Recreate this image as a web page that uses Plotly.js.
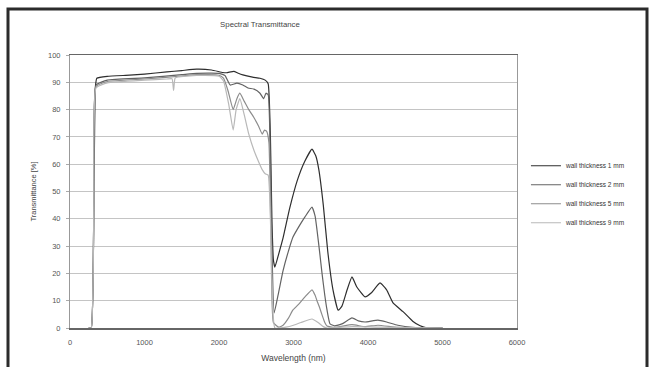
<!DOCTYPE html>
<html>
<head>
<meta charset="utf-8">
<script src="https://cdn.plot.ly/plotly-3.0.1.min.js"></script>
<style>html,body{margin:0;padding:0;background:#fff;}#chart{width:649px;height:367px;}</style>
</head>
<body>
<div id="chart"></div>
<script>
var seriesNames = ["wall thickness 1 mm", "wall thickness 2 mm", "wall thickness 5 mm", "wall thickness 9 mm"];

var wl1 = [250, 285, 320, 340, 360, 500, 800, 1000, 1300, 1500, 1700, 1900, 2050, 2100, 2200, 2250, 2320, 2450, 2550, 2620, 2660, 2690, 2710, 2730, 2750, 2800, 2860, 2950, 3050, 3150, 3248, 3300, 3340, 3400, 3460, 3530, 3600, 3650, 3720, 3785, 3850, 3960, 4050, 4161, 4250, 4336, 4470, 4600, 4700, 4800, 5000];
var t1  = [0, 0, 45, 88, 91.5, 92.2, 92.6, 93, 93.8, 94.3, 94.8, 94.5, 93.6, 93.5, 94, 93.4, 92.7, 91.9, 91.5, 90.8, 89.5, 70, 40, 25, 22.3, 27, 33, 44, 54, 61, 65.5, 63, 58, 45, 28, 14, 6.5, 8, 14, 18.7, 15, 11.4, 13, 16.5, 14, 9.2, 6, 2.5, 0.8, 0, 0];

var wl2 = [250, 285, 320, 350, 500, 1000, 1500, 1700, 2000, 2080, 2150, 2240, 2320, 2390, 2470, 2550, 2600, 2630, 2660, 2690, 2710, 2740, 2800, 2860, 2930, 2993, 3080, 3154, 3248, 3290, 3315, 3350, 3383, 3420, 3450, 3490, 3550, 3650, 3785, 3870, 3960, 4134, 4250, 4400, 4600, 5000];
var t2  = [0, 0, 45, 89, 90.8, 91.6, 92.8, 93.3, 93.3, 92.5, 89, 89.7, 89, 87.9, 87.5, 86, 84, 86, 85.5, 60, 30, 5.5, 13, 21, 28, 33.3, 37.5, 40.7, 44.3, 41, 36, 28, 20, 12, 6.6, 1.5, 0.8, 1.5, 3.7, 2.6, 2.2, 2.9, 2.2, 1, 0.2, 0];

var wl3 = [250, 285, 320, 350, 500, 1000, 1500, 1700, 2000, 2060, 2120, 2190, 2240, 2280, 2340, 2400, 2470, 2530, 2580, 2610, 2640, 2670, 2700, 2730, 2800, 2860, 2930, 2993, 3080, 3154, 3248, 3290, 3315, 3350, 3383, 3420, 3450, 3550, 3785, 3960, 4134, 4400, 5000];
var t3  = [0, 0, 45, 88.5, 90.3, 91.2, 92.3, 92.8, 92.6, 91.5, 87, 80, 84, 86, 83, 80, 77, 74, 71, 72.5, 72, 68, 30, 2, 0.3, 1, 3.5, 6.6, 9, 11.4, 14, 12, 10, 7.5, 4.8, 2, 0.7, 0.2, 1.2, 0.5, 1, 0.2, 0];

var wl4 = [250, 285, 320, 350, 500, 1000, 1300, 1370, 1390, 1410, 1450, 1700, 2000, 2060, 2130, 2190, 2230, 2280, 2340, 2400, 2470, 2530, 2580, 2620, 2660, 2690, 2720, 2750, 2900, 3000, 3100, 3248, 3330, 3400, 3450, 3785, 4134, 5000];
var t4  = [0, 0, 45, 88, 89.8, 90.8, 91.2, 91.3, 87, 91.5, 92, 92.5, 92.2, 90.5, 82, 72.5, 80, 84, 78, 71, 65, 61, 58, 56.5, 56, 40, 8, 0, 0.3, 1, 2, 3.3, 2, 0.5, 0, 0.5, 0.3, 0];

var xTicks = [0, 1000, 2000, 3000, 4000, 5000, 6000];
var yTicks = [0, 10, 20, 30, 40, 50, 60, 70, 80, 90, 100];

var colors = ["#2e2e2e", "#636363", "#8c8c8c", "#b8b8b8"];
var xs = [wl1, wl2, wl3, wl4];
var ys = [t1, t2, t3, t4];

var data = seriesNames.map(function (n, i) {
  return {
    x: xs[i], y: ys[i], name: n, type: "scatter", mode: "lines",
    line: {color: colors[i], width: 1.2, shape: "spline", smoothing: 0.4}
  };
});

var font = "Liberation Sans, Arial, sans-serif";
var layout = {
  width: 649, height: 367,
  margin: {l: 70, r: 132, t: 55, b: 39},
  paper_bgcolor: "#ffffff", plot_bgcolor: "#ffffff",
  font: {family: font, size: 7, color: "#444"},
  showlegend: true,
  title: {text: "Spectral Transmittance", font: {size: 7.8, color: "#444"}, x: 0.425, xref: "paper", xanchor: "center", y: 0.935, yanchor: "middle"},
  xaxis: {
    range: [0, 6000], tickvals: xTicks, ticktext: xTicks.map(String),
    showgrid: false, zeroline: false, showline: true, linecolor: "#666", linewidth: 1.5, mirror: true,
    ticks: "", ticklabelstandoff: 6, tickfont: {size: 7.5, color: "#555"},
    title: {text: "Wavelength (nm)", font: {size: 8.5, color: "#444"}, standoff: 9}
  },
  yaxis: {
    range: [0, 100], tickvals: yTicks, ticktext: yTicks.map(String),
    showgrid: true, gridcolor: "#c4c4c4", gridwidth: 1, zeroline: false,
    showline: true, linecolor: "#999", linewidth: 1, mirror: true,
    ticks: "outside", ticklen: 3, tickcolor: "#aaa", ticklabelstandoff: 4, tickfont: {size: 7.5, color: "#555"},
    title: {text: "Transmittance [%]", font: {size: 7.5, color: "#444"}, standoff: 10}
  },
  legend: {x: 1.02, xanchor: "left", y: 0.49, yanchor: "middle", font: {size: 6.5, color: "#333"}, bgcolor: "rgba(0,0,0,0)", tracegroupgap: 0},
  shapes: [{
    type: "rect", xref: "paper", yref: "paper",
    x0: (8 - 70) / 447, x1: (647 - 70) / 447,
    y0: (328 - 375) / 273, y1: (328 - 9) / 273,
    line: {color: "#2b2b2b", width: 3}, fillcolor: "rgba(0,0,0,0)", layer: "above"
  }]
};

Plotly.newPlot("chart", data, layout, {displayModeBar: false, staticPlot: true});
</script>
</body>
</html>
